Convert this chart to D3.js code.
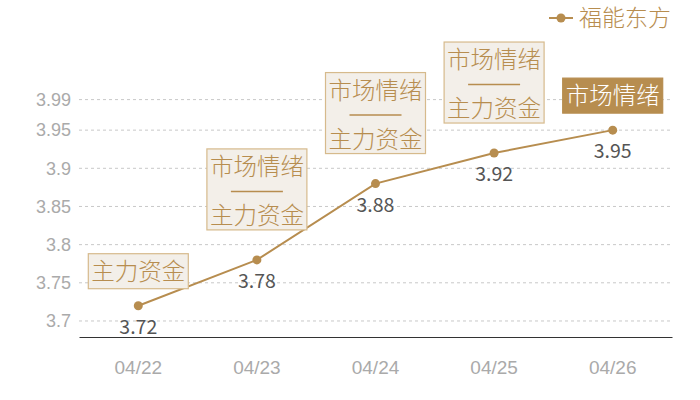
<!DOCTYPE html>
<html><head><meta charset="utf-8">
<script src="https://cdn.jsdelivr.net/npm/d3@7"></script>
<style>body{margin:0;background:#fff}svg{display:block;font-family:"Noto Sans CJK SC","Noto Sans",sans-serif}</style>
</head><body><svg id="c" width="700" height="400"></svg>
<script>
const categories = ["04/22","04/23","04/24","04/25","04/26"];
const values = [3.72,3.78,3.88,3.92,3.95];
const yTicks = [3.7,3.75,3.8,3.85,3.9,3.95,3.99];
const labels = [["主力资金"],["市场情绪","——","主力资金"],["市场情绪","——","主力资金"],["市场情绪","——","主力资金"],["市场情绪"]];
const highlighted = [false,false,false,false,true];
const seriesName = "福能东方";

const gold = "#b78d4f";
const svg = d3.select("#c");
const x = d3.scaleBand().domain(categories).range([79,672]);
const y = d3.scaleLinear().domain([3.679,3.99]).range([337,99.6]);

// grid
svg.append("g").selectAll("line").data(yTicks).join("line")
  .attr("x1",79).attr("x2",672).attr("y1",d=>y(d)).attr("y2",d=>y(d))
  .attr("stroke","#c8c8c8").attr("stroke-dasharray","3,3");

// y axis
const ya = svg.append("g").attr("transform","translate(79,0)")
  .call(d3.axisLeft(y).tickValues(yTicks).tickFormat(d=>String(d)).tickSize(0).tickPadding(8));
ya.select(".domain").remove();
ya.selectAll("text").attr("fill","#aaa").style("font-size","18px").style("font-family","inherit").style("font-weight","350");

// x axis
const xa = svg.append("g").attr("transform","translate(0,337)")
  .call(d3.axisBottom(x).tickSize(0).tickPadding(24));
xa.select(".domain").attr("stroke","#333");
xa.selectAll("text").attr("fill","#aaa").style("font-size","19px").style("font-family","inherit").style("font-weight","350");

const cx = d=>x(d)+x.bandwidth()/2;
const pts = categories.map((c,i)=>({c,v:values[i],l:labels[i],h:highlighted[i]}));

svg.append("path").datum(pts)
  .attr("d",d3.line().x(d=>cx(d.c)).y(d=>y(d.v)))
  .attr("fill","none").attr("stroke",gold).attr("stroke-width",2);

svg.append("g").selectAll("circle").data(pts).join("circle")
  .attr("cx",d=>cx(d.c)).attr("cy",d=>y(d.v)).attr("r",4.5).attr("fill",gold);

svg.append("g").selectAll("text").data(pts).join("text")
  .attr("x",d=>cx(d.c)).attr("y",d=>y(d.v)+28).attr("text-anchor","middle")
  .attr("fill","#555").style("font-size","19.5px").style("font-weight","400").text(d=>d.v.toFixed(2));

// annotation boxes
const lh = 24.5;
pts.forEach(d=>{
  const n = d.l.length;
  const h = n===1 ? 35 : 81;
  const gap = n===1 ? 17 : 30;
  const bottom = y(d.v) - gap;
  const top = bottom - h;
  const w = 100;
  const g = svg.append("g");
  g.append("rect").attr("x",cx(d.c)-w/2).attr("y",top).attr("width",w).attr("height",h)
    .attr("fill",d.h?gold:"#f3efe9").attr("stroke",d.h?gold:"#d6ba8c").attr("stroke-width",1.2);
  d.l.forEach((t,j)=>{
    const ty = n===1 ? top+h/2 : top+18+j*lh;
    if(t==="——"){
      g.append("line").attr("x1",cx(d.c)-26).attr("x2",cx(d.c)+26).attr("y1",ty).attr("y2",ty)
        .attr("stroke",gold).attr("stroke-width",1.5);
    } else {
      g.append("text").attr("x",cx(d.c)).attr("y",ty).attr("dy","0.36em").attr("text-anchor","middle")
        .attr("fill",d.h?"#fff":gold).style("font-size","23.5px").style("font-weight","300").text(t);
    }
  });
});

// legend
const lg = svg.append("g");
lg.append("line").attr("x1",549).attr("x2",573).attr("y1",18).attr("y2",18).attr("stroke",gold).attr("stroke-width",2);
lg.append("circle").attr("cx",561).attr("cy",18).attr("r",4.5).attr("fill",gold);
lg.append("text").attr("x",579).attr("y",18).attr("dy","0.36em").attr("fill",gold).style("font-size","23px").style("font-weight","300").text(seriesName);
</script></body></html>
